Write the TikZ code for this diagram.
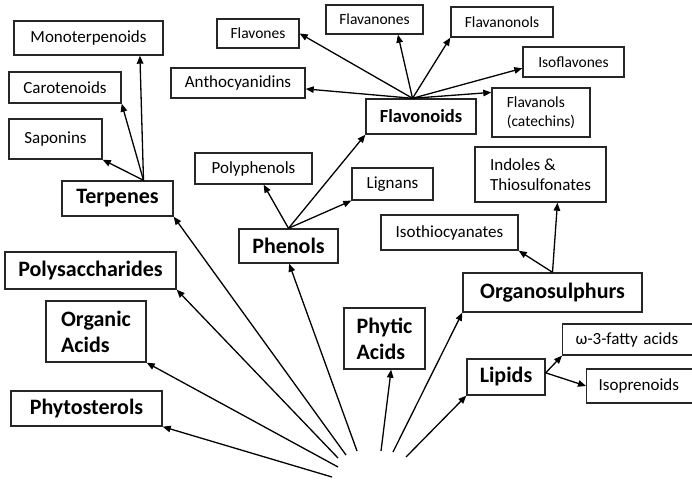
\documentclass[tikz,border=0pt]{standalone}
\usepackage{fontspec}
\setmainfont{Carlito}
\usetikzlibrary{arrows.meta}

\tikzset{
  grp/.style={draw=black!85, line width=1.4pt, inner sep=0pt, align=left,
              font=\fontsize{22}{26}\selectfont\bfseries},
  sub/.style={draw=black!85, line width=1.4pt, inner sep=0pt, align=left,
              font=\fontsize{17}{20}\selectfont},
  flv/.style={sub, font=\fontsize{15.5}{19}\selectfont},
  link/.style={line width=1.3pt, ->}
}

\begin{document}
\begin{tikzpicture}[x=1pt,y=-1pt,>={Triangle[length=8pt,width=6.5pt]}]

\clip (0,0) rectangle (692,481);

% ---------------- TERPENES ----------------
\node[grp, minimum width=111pt, minimum height=35pt] (terp) at (117.5,198.5) {Terpenes};
\node[sub, minimum width=149pt, minimum height=34pt] (mono) at (88.5,38) {Monoterpenoids};
\node[sub, minimum width=112pt, minimum height=31pt] (caro) at (65,87.5) {Carotenoids};
\node[sub, minimum width=93pt, minimum height=40pt] (sapo) at (55.5,139) {Saponins};

\draw[link] (terp.35) -- (sapo.south east);
\draw[link] (terp.35) -- (caro.south east);
\draw[link] (terp.35) -- (mono.-19);

% ---------------- PHENOLS ----------------
\node[grp, minimum width=99pt, minimum height=34pt] (phen) at (288.5,246) {Phenols};
\node[sub, minimum width=117pt, minimum height=31pt] (polyph) at (253.5,168.5) {Polyphenols};
\node[sub, minimum width=81pt, minimum height=32pt] (lign) at (392.5,184) {Lignans};

% ---------------- FLAVONOIDS ----------------
\node[grp, font=\fontsize{18.5}{22}\selectfont\bfseries,
      minimum width=110pt, minimum height=35pt] (flav) at (421,116.5) {Flavonoids};
\node[flv, minimum width=82pt, minimum height=29pt] (flavones) at (258,33.5) {Flavones};
\node[sub, minimum width=134pt, minimum height=30pt] (antho) at (238,83) {Anthocyanidins};
\node[flv, minimum width=97pt, minimum height=29pt] (flavanones) at (374.5,19.5) {Flavanones};
\node[flv, minimum width=102pt, minimum height=30pt] (flavanonols) at (502,22) {Flavanonols};
\node[flv, minimum width=101pt, minimum height=30pt] (isofl) at (573.5,62) {Isoflavones};
\node[flv, minimum width=98pt, minimum height=49pt] (flavanols) at (541,112.5) {Flavanols\\(catechins)};

\draw[link] (phen.north) -- (polyph.-58);
\draw[link] (phen.north) -- (lign.south west);
\draw[link] (phen.north) -- (flav.south west);

\draw[link] (flav.115) -- (flavones.east);
\draw[link] (flav.115) -- (antho.-5);
\draw[link] (flav.115) -- (flavanones.-33);
\draw[link] (flav.115) -- (flavanonols.south west);
\draw[link] (flav.115) -- (isofl.187);
\draw[link] (flav.115) -- (flavanols.158);

% ---------------- ORGANOSULPHURS ----------------
\node[grp, minimum width=179pt, minimum height=39pt] (orgs) at (552.5,292.5) {Organosulphurs};
\node[sub, minimum width=131pt, minimum height=55pt] (indol) at (540.5,174.5) {Indoles \&\\Thiosulfonates};
\node[sub, minimum width=137pt, minimum height=35pt] (isoth) at (449.5,232.5) {Isothiocyanates};

\draw[link] (orgs.north) -- (isoth.south east);
\draw[link] (orgs.north) -- (indol.-59);

% ---------------- LIPIDS ----------------
\node[grp, minimum width=78pt, minimum height=36pt] (lip) at (506,377) {Lipids};
\node[sub, anchor=west, text width=116pt, inner xsep=13pt, minimum height=31pt] (omega) at (562,339.5) {ω-3-fatty acids};
\node[sub, anchor=west, text width=104pt, inner xsep=12pt, minimum height=34pt] (isopr) at (586,386) {Isoprenoids};

\draw[link] (lip.6) -- (omega.south west);
\draw[link] (lip.6) -- (isopr.west);

% ---------------- LEFT GROUPS ----------------
\node[grp, minimum width=171pt, minimum height=37pt] (polys) at (90.5,270.5) {Polysaccharides};
\node[grp, minimum width=100pt, minimum height=61pt] (orga) at (96,331.5) {Organic\\Acids};
\node[grp, minimum width=151pt, minimum height=35pt] (physt) at (86.5,408.5) {Phytosterols};
\node[grp, minimum width=81pt, minimum height=61pt] (phyt) at (384.5,338.5) {Phytic\\Acids};

% ---------------- FAN FROM BOTTOM ----------------
\coordinate (f1) at (332,477);
\coordinate (f2) at (338,467);
\coordinate (f3) at (338,458);
\coordinate (f4) at (346,455);
\coordinate (f5) at (357,451);
\coordinate (f6) at (381,451);
\coordinate (f7) at (393,452);
\coordinate (f8) at (406,457);

\draw[link] (f1) -- (physt.south east);
\draw[link] (f2) -- (orga.south east);
\draw[link] (f3) -- (polys.south east);
\draw[link] (f4) -- (terp.south east);
\draw[link] (f5) -- (phen.-88);
\draw[link] (f6) -- (phyt.-78);
\draw[link] (f7) -- (orgs.south west);
\draw[link] (f8) -- (lip.south west);

\end{tikzpicture}
\end{document}
